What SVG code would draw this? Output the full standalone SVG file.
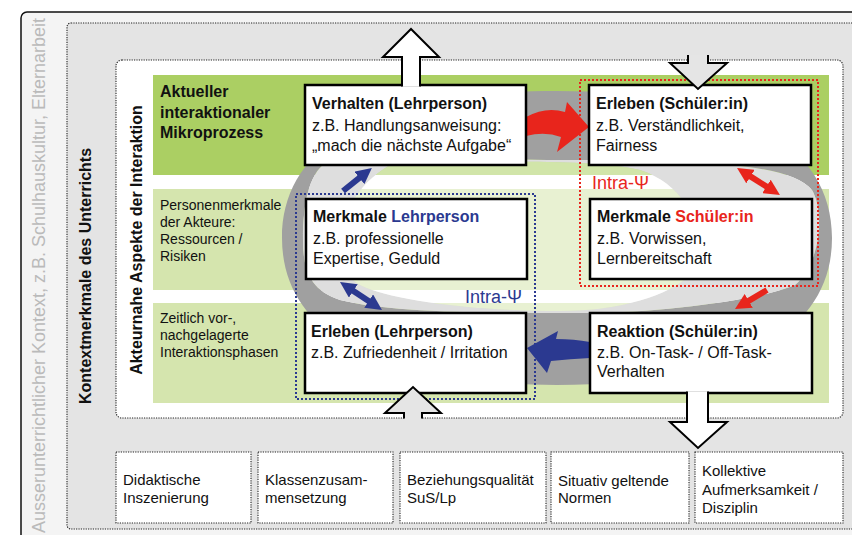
<svg xmlns="http://www.w3.org/2000/svg" width="852" height="535" viewBox="0 0 852 535">
<style>
text{font-family:"Liberation Sans",Arial,Helvetica,sans-serif;fill:#111}
.b{font-weight:bold}
.t16{font-size:16px}
.t14{font-size:14px}
.t15{font-size:15px}
.box{fill:#fff;stroke:#000;stroke-width:2.5}
.dot{stroke:#222;stroke-width:1.1;stroke-dasharray:1.2 1.2}
.bar{fill:#fff;stroke:#000;stroke-width:2;stroke-linejoin:miter}
.red{fill:#e8251c}
.blue{fill:#2b3990}
</style>
<defs>
<marker id="hr" viewBox="0 0 16 16" refX="4" refY="8" markerWidth="16" markerHeight="16" markerUnits="userSpaceOnUse" orient="auto-start-reverse"><path d="M0,0 L16,8 L0,16 Z" fill="#e8251c"/></marker>
<marker id="hb" viewBox="0 0 16 16" refX="4" refY="8" markerWidth="16" markerHeight="16" markerUnits="userSpaceOnUse" orient="auto-start-reverse"><path d="M0,0 L16,8 L0,16 Z" fill="#2b3990"/></marker>
</defs>

<!-- outer frame -->
<g id="outer">
<rect x="21" y="12" width="850" height="540" rx="6" fill="#f4f4f4" stroke="#111" stroke-width="1.5"/>
<text transform="translate(45,533) rotate(-90)" textLength="515" lengthAdjust="spacing" style="font-size:18px;fill:#bababa">Ausserunterrichtlicher Kontext, z.B. Schulhauskultur, Elternarbeit</text>
</g>
<g id="kontext">
<rect x="67" y="23" width="800" height="506" rx="4" fill="#e4e4e4" class="dot"/>
<text class="b t16" text-anchor="middle" transform="translate(91,276) rotate(-90)">Kontextmerkmale des Unterrichts</text>
</g>
<g id="akteur">
<rect x="116" y="60" width="727" height="358" rx="6" fill="#fff" class="dot"/>
<text class="b t16" text-anchor="middle" transform="translate(142,240) rotate(-90)">Akteurnahe Aspekte der Interaktion</text>
</g>

<!-- bands -->
<g id="bands">
<rect x="153" y="75" width="676" height="100" fill="#abcf63"/>
<rect x="153" y="189" width="676" height="101" fill="#d5e5ae"/>
<rect x="153" y="303" width="676" height="100" fill="#d5e5ae"/>
<text class="b t16" x="160" y="97">Aktueller</text>
<text class="b t16" x="160" y="118">interaktionaler</text>
<text class="b t16" x="160" y="138">Mikroprozess</text>
<text class="t14" x="160" y="210">Personenmerkmale</text>
<text class="t14" x="160" y="227">der Akteure:</text>
<text class="t14" x="160" y="244">Ressourcen /</text>
<text class="t14" x="160" y="261">Risiken</text>
<text class="t14" x="160" y="323">Zeitlich vor-,</text>
<text class="t14" x="160" y="340">nachgelagerte</text>
<text class="t14" x="160" y="357">Interaktionsphasen</text>
</g>

<!-- ring -->
<g id="ring">
<path fill="#a0a0a0" fill-rule="evenodd" d="M282,238 C282,142.5 378,91 557,91 C736,91 832,142.5 832,238 C832,333.5 736,385 557,385 C378,385 282,333.5 282,238 Z
M560,160 C700,160 790,163 812,190 C824,210 822,262 795,285 C760,300 660,313 590,313 L540,313 C450,313 380,310 340,300 C310,290 303,270 303,240 C303,200 310,170 330,160 C380,150 480,160 560,160 Z"/>
<path fill="#dedede" fill-rule="evenodd" d="M560,160 C700,160 790,163 812,190 C824,210 822,262 795,285 C760,300 660,313 590,313 L540,313 C450,313 380,310 340,300 C310,290 303,270 303,240 C303,200 310,170 330,160 C380,150 480,160 560,160 Z
M390,165 C500,160 600,160 640,170 C700,190 705,250 690,275 C670,295 620,311 560,311 C470,311 390,300 360,285 C330,270 330,200 390,165 Z"/>
<path fill="#fff" fill-opacity="0.45" d="M390,165 C500,160 600,160 640,170 C700,190 705,250 690,275 C670,295 620,311 560,311 C470,311 390,300 360,285 C330,270 330,200 390,165 Z"/>
</g>

<!-- intra groups -->
<g id="intra-schueler">
<rect x="580" y="80" width="238" height="206" fill="none" stroke="#e8251c" stroke-width="2" stroke-dasharray="2 2"/>
<text x="592" y="189" style="font-size:18px;fill:#e8251c">Intra-Ψ</text>
</g>
<g id="intra-lehrperson">
<rect x="296" y="194" width="239" height="205" fill="none" stroke="#2b3990" stroke-width="2" stroke-dasharray="2 2"/>
<text x="465" y="303" style="font-size:18px;fill:#2b3990">Intra-Ψ</text>
</g>

<!-- connectors -->
<g id="connectors">
<path class="red" d="M526,117 Q546,106 565,112 L567,102 L589,127 L557,152 L561,137 Q545,131 526,136 Z"/>
<path class="blue" d="M590,342 Q574,339 556,339 L558,331 L527,348 L547,373 L551,361 Q570,359 590,358 Z"/>
<line x1="343" y1="191" x2="362.5" y2="175.4" stroke="#2b3990" stroke-width="6" marker-end="url(#hb)"/>
<line x1="350" y1="288.7" x2="372" y2="303.3" stroke="#2b3990" stroke-width="6" marker-start="url(#hb)" marker-end="url(#hb)"/>
<line x1="747.2" y1="174.4" x2="769.8" y2="188.6" stroke="#e8251c" stroke-width="6" marker-start="url(#hr)" marker-end="url(#hr)"/>
<line x1="767" y1="290" x2="745.3" y2="302.9" stroke="#e8251c" stroke-width="6" marker-end="url(#hr)"/>
</g>

<!-- nodes -->
<g id="verhalten-lehrperson">
<rect class="box" x="305" y="85" width="221" height="80"/>
<text class="b t16" x="312" y="109">Verhalten (Lehrperson)</text>
<text class="t16" x="312" y="131">z.B. Handlungsanweisung:</text>
<text class="t16" x="312" y="151">„mach die nächste Aufgabe“</text>
</g>
<g id="erleben-schueler">
<rect class="box" x="589" y="85" width="222" height="80"/>
<text class="b t16" x="596" y="109">Erleben (Schüler:in)</text>
<text class="t16" x="596" y="131">z.B. Verständlichkeit,</text>
<text class="t16" x="596" y="151">Fairness</text>
</g>
<g id="merkmale-lehrperson">
<rect class="box" x="306" y="199" width="221" height="80"/>
<text class="b t16" x="313" y="222">Merkmale <tspan style="fill:#2b3990">Lehrperson</tspan></text>
<text class="t16" x="313" y="244">z.B. professionelle</text>
<text class="t16" x="313" y="264">Expertise, Geduld</text>
</g>
<g id="merkmale-schueler">
<rect class="box" x="590" y="199" width="222" height="80"/>
<text class="b t16" x="597" y="222">Merkmale <tspan style="fill:#e8251c">Schüler:in</tspan></text>
<text class="t16" x="597" y="244">z.B. Vorwissen,</text>
<text class="t16" x="597" y="264">Lernbereitschaft</text>
</g>
<g id="erleben-lehrperson">
<rect class="box" x="305" y="313" width="221" height="80"/>
<text class="b t16" x="311" y="337">Erleben (Lehrperson)</text>
<text class="t16" x="311" y="358">z.B. Zufriedenheit / Irritation</text>
</g>
<g id="reaktion-schueler">
<rect class="box" x="590" y="313" width="222" height="80"/>
<text class="b t16" x="597" y="337">Reaktion (Schüler:in)</text>
<text class="t16" x="597" y="358">z.B. On-Task- / Off-Task-</text>
<text class="t16" x="597" y="377">Verhalten</text>
</g>

<!-- block arrows -->
<g id="block-arrows">
<path class="bar" d="M402,86.5 L402,57 L383,57 L411,29 L439,57 L420,57 L420,86.5"/>
<path d="M688,55 L688,63 L670,63 L698,89 L727,63 L708,63 L708,55 Z" fill="#e5e5e5"/>
<path d="M688,55 L688,63 L670,63 L698,89 L727,63 L708,63 L708,55" fill="none" stroke="#000" stroke-width="2"/>
<path d="M404,420 L404,413 L385,413 L413,387 L441,413 L422,413 L422,420 Z" fill="#e5e5e5"/>
<path d="M404,418.5 L404,413 L385,413 L413,387 L441,413 L422,413 L422,418.5" fill="none" stroke="#000" stroke-width="2"/>
<path class="bar" d="M687,391.5 L687,422 L670,422 L698,448 L727,422 L708,422 L708,391.5"/>
</g>

<!-- bottom boxes -->
<g id="didaktik">
<rect x="116" y="452" width="135" height="71" fill="#fff" class="dot"/>
<text class="t15" x="123" y="485">Didaktische</text>
<text class="t15" x="123" y="503">Inszenierung</text>
</g>
<g id="klasse">
<rect x="258" y="452" width="135" height="71" fill="#fff" class="dot"/>
<text class="t15" x="265" y="485">Klassenzusam-</text>
<text class="t15" x="265" y="503">mensetzung</text>
</g>
<g id="beziehung">
<rect x="400" y="452" width="146" height="71" fill="#fff" class="dot"/>
<text class="t15" x="407" y="485">Beziehungsqualität</text>
<text class="t15" x="407" y="503">SuS/Lp</text>
</g>
<g id="normen">
<rect x="551" y="452" width="138" height="71" fill="#fff" class="dot"/>
<text class="t15" x="558" y="486">Situativ geltende</text>
<text class="t15" x="558" y="503">Normen</text>
</g>
<g id="aufmerksamkeit">
<rect x="695" y="452" width="148" height="71" fill="#fff" class="dot"/>
<text class="t15" x="702" y="476">Kollektive</text>
<text class="t15" x="702" y="495">Aufmerksamkeit /</text>
<text class="t15" x="702" y="513">Disziplin</text>
</g>
</svg>
